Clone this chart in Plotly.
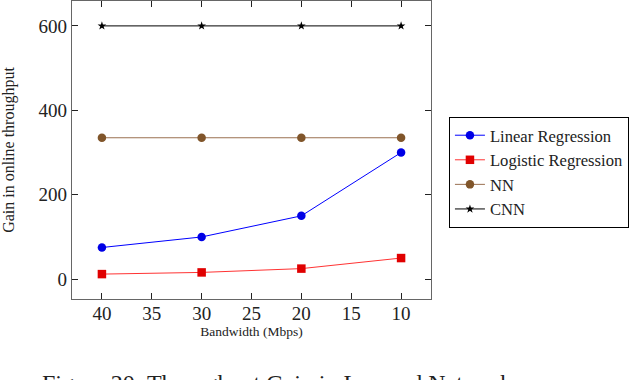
import plotly.graph_objects as go

bandwidth = [40, 30, 20, 10]
linear_reg = [75, 100, 150, 300]
logistic_reg = [12, 16, 25, 50]
nn = [335, 335, 335, 335]
cnn = [600, 600, 600, 600]
x_ticks = [40, 35, 30, 25, 20, 15, 10]
y_ticks = [0, 200, 400, 600]

FONT = "Liberation Serif"
fig = go.Figure()
fig.add_trace(go.Scatter(x=bandwidth, y=linear_reg, name="Linear Regression", mode="lines+markers",
                         line=dict(color="#0000ff", width=1), marker=dict(symbol="circle", size=8.5, color="#0000e6")))
fig.add_trace(go.Scatter(x=bandwidth, y=logistic_reg, name="Logistic Regression", mode="lines+markers",
                         line=dict(color="#ff3333", width=1), marker=dict(symbol="square", size=8.5, color="#e00000")))
fig.add_trace(go.Scatter(x=bandwidth, y=nn, name="NN", mode="lines+markers",
                         line=dict(color="#9a7050", width=1), marker=dict(symbol="circle", size=8.5, color="#80552a")))
fig.add_trace(go.Scatter(x=bandwidth, y=cnn, name="CNN", mode="lines+markers",
                         line=dict(color="#000000", width=1), marker=dict(symbol="star", size=6.5, color="#000000")))

axis_common = dict(showgrid=False, zeroline=False, showline=True, linecolor="#666666", linewidth=1.4,
                   mirror="ticks", ticks="inside", ticklen=6, tickcolor="#222222", tickwidth=1.3,
                   tickfont=dict(family=FONT, size=19, color="#222222"))
fig.update_xaxes(range=[43, 7], tickvals=x_ticks, ticktext=[str(v) for v in x_ticks], ticklabelstandoff=-3,
                 title=dict(text="Bandwidth (Mbps)", font=dict(family=FONT, size=13.5, color="#222222"), standoff=3),
                 **axis_common)
fig.update_yaxes(range=[-47, 659], tickvals=y_ticks, ticktext=[str(v) for v in y_ticks],
                 title=dict(text="Gain in online throughput", font=dict(family=FONT, size=16, color="#222222"), standoff=20),
                 **axis_common)

fig.update_layout(
    width=634, height=380, plot_bgcolor="white", paper_bgcolor="white",
    margin=dict(l=72, r=203, t=1, b=81),
    font=dict(family=FONT, color="#222222"),
    legend=dict(x=1.05, y=0.611, xanchor="left", yanchor="top", bgcolor="white",
                bordercolor="#000000", borderwidth=1, font=dict(family=FONT, size=16.6, color="#222222"),
                tracegroupgap=0, itemwidth=30),
    showlegend=True,
    annotations=[dict(text="Figure 20: Throughput Gain in Learned Networks", xref="paper", yref="paper",
                      x=-0.09, y=-0.232, xanchor="left", yanchor="top", showarrow=False,
                      font=dict(family=FONT, size=24, color="#222222"))],
)
fig.write_html("out.html", config={"displayModeBar": False},
               post_script="document.body.style.margin='0';document.body.style.overflow='hidden';")
